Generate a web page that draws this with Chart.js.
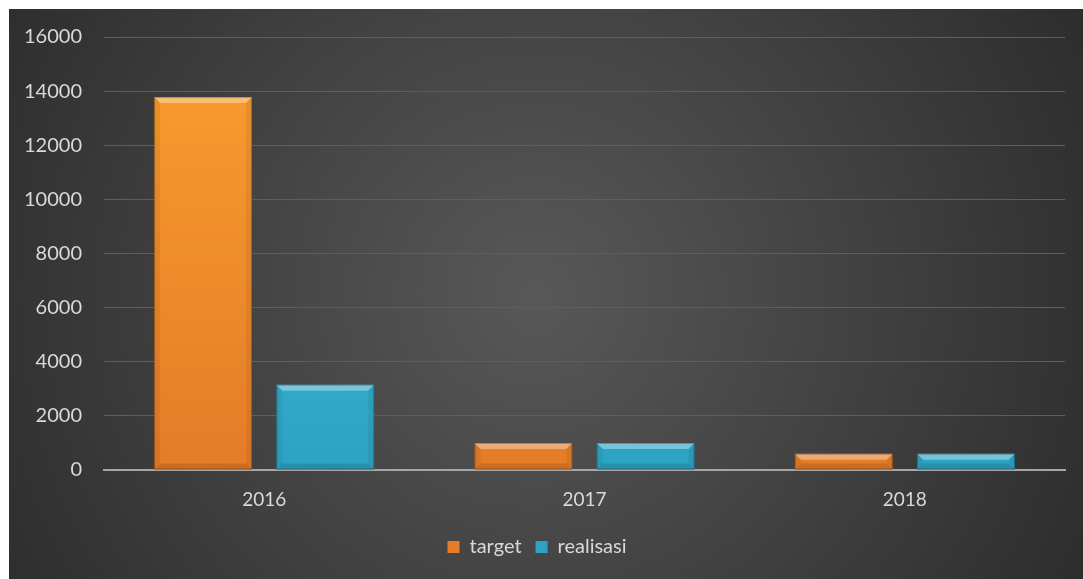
<!DOCTYPE html>
<html>
<head>
<meta charset="utf-8">
<script src="https://cdn.jsdelivr.net/npm/chart.js@4.4.0/dist/chart.umd.min.js"></script>
<style>
  html, body { margin: 0; padding: 0; background: #ffffff; }
  #wrap { position: absolute; left: 9px; top: 9px; width: 1074px; height: 570px; }
</style>
</head>
<body>
<div id="wrap"><canvas id="chart1"></canvas></div>
<script>
let years = ['2016', '2017', '2018'];
let targetData = [13780, 1000, 600];
let realisasiData = [3150, 1000, 600];
let seriesNames = ['target', 'realisasi'];
let yTicks = [0, 2000, 4000, 6000, 8000, 10000, 12000, 14000, 16000];

const textColor = '#d9d9d9';
const fontName = 'Lato';

// vertical gradient for each bar
function barGradient(top, bottom) {
  return function (context) {
    const chart = context.chart;
    const area = chart.chartArea;
    if (!area) return top;
    const g = chart.ctx.createLinearGradient(0, area.top, 0, area.bottom);
    g.addColorStop(0, top);
    g.addColorStop(1, bottom);
    return g;
  };
}

const bgPlugin = {
  id: 'bg',
  beforeDraw(chart) {
    const ctx = chart.ctx;
    const w = chart.width, h = chart.height;
    ctx.save();
    const g = ctx.createRadialGradient(w * 0.49, h * 0.5, 0, w * 0.49, h * 0.5, w * 0.6);
    g.addColorStop(0, '#585858');
    g.addColorStop(1, '#2b2b2b');
    ctx.fillStyle = g;
    ctx.fillRect(0, 0, w, h);
    ctx.restore();
  }
};

// little bevel effect on the bars, like the office chart style
const bevelPlugin = {
  id: 'bevel',
  afterDatasetsDraw(chart) {
    const ctx = chart.ctx;
    chart.data.datasets.forEach((ds, i) => {
      const meta = chart.getDatasetMeta(i);
      meta.data.forEach(bar => {
        const left = bar.x - bar.width / 2;
        const right = bar.x + bar.width / 2;
        const top = bar.y;
        const bottom = bar.base;
        const d = Math.min(6, (bottom - top) / 2.5);
        ctx.save();
        // top
        ctx.fillStyle = 'rgba(255,255,255,0.35)';
        ctx.beginPath();
        ctx.moveTo(left, top); ctx.lineTo(right, top);
        ctx.lineTo(right - d, top + d); ctx.lineTo(left + d, top + d);
        ctx.closePath(); ctx.fill();
        // sides
        ctx.fillStyle = 'rgba(0,0,0,0.06)';
        ctx.beginPath();
        ctx.moveTo(left, top); ctx.lineTo(left + d, top + d);
        ctx.lineTo(left + d, bottom - d); ctx.lineTo(left, bottom);
        ctx.closePath(); ctx.fill();
        ctx.beginPath();
        ctx.moveTo(right, top); ctx.lineTo(right - d, top + d);
        ctx.lineTo(right - d, bottom - d); ctx.lineTo(right, bottom);
        ctx.closePath(); ctx.fill();
        // bottom
        ctx.fillStyle = 'rgba(0,0,0,0.12)';
        ctx.beginPath();
        ctx.moveTo(left, bottom); ctx.lineTo(right, bottom);
        ctx.lineTo(right - d, bottom - d); ctx.lineTo(left + d, bottom - d);
        ctx.closePath(); ctx.fill();
        ctx.strokeStyle = 'rgba(0,0,0,0.25)';
        ctx.lineWidth = 1;
        ctx.strokeRect(left + 0.5, top + 0.5, bar.width - 1, bottom - top - 1);
        ctx.restore();
      });
    });
  }
};

document.addEventListener('DOMContentLoaded', function () {
  const ctx = document.getElementById('chart1').getContext('2d');
  new Chart(ctx, {
    type: 'bar',
    data: {
      labels: years,
      datasets: [
        {
          label: seriesNames[0],
          data: targetData,
          backgroundColor: barGradient('#fb9d2e', '#e47c28'),
          borderWidth: 0
        },
        {
          label: seriesNames[1],
          data: realisasiData,
          backgroundColor: barGradient('#3fc0e0', '#2da3c3'),
          borderWidth: 0
        }
      ]
    },
    options: {
      responsive: true,
      maintainAspectRatio: false,
      animation: false,
      categoryPercentage: 0.763,
      barPercentage: 0.8,
      layout: { padding: { top: 28, right: 18, left: 0, bottom: 12 } },
      plugins: {
        tooltip: { enabled: false },
        legend: {
          display: true,
          position: 'bottom',
          labels: {
            color: textColor,
            font: { family: fontName, size: 20 },
            boxWidth: 12,
            boxHeight: 12,
            padding: 14
          }
        }
      },
      scales: {
        x: {
          grid: { display: false, drawTicks: false },
          border: { display: true, color: '#a6a6a6', width: 2 },
          ticks: {
            color: textColor,
            font: { family: fontName, size: 19 },
            padding: 18
          },
          afterFit: s => { s.height = 53; }
        },
        y: {
          min: 0,
          max: 16000,
          afterBuildTicks: s => { s.ticks = yTicks.map(v => ({ value: v })); },
          grid: { color: '#5e5e5e', lineWidth: 1, drawTicks: false },
          border: { display: false },
          ticks: {
            color: textColor,
            font: { family: fontName, size: 20 },
            padding: 22,
            callback: v => String(v)
          },
          afterFit: s => { s.width = 95; s.paddingTop = 0; s.paddingBottom = 0; }
        }
      }
    },
    plugins: [bgPlugin, bevelPlugin]
  });
});
</script>
</body>
</html>
